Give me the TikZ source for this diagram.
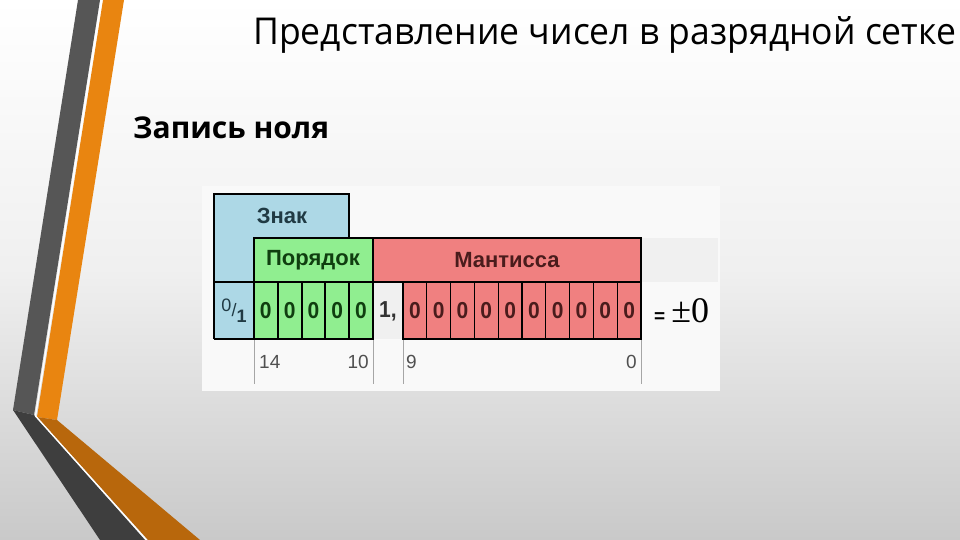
\documentclass[tikz,border=0pt]{standalone}
\usepackage{fontspec}
\setmainfont{Liberation Sans}
\newfontfamily\titlefont{Open Sans}
\newfontfamily\numserif{Liberation Serif}
\definecolor{bgtop}{HTML}{FFFFFF}
\definecolor{bgbottom}{HTML}{C9C9C9}
\definecolor{bandgray}{HTML}{565656}
\definecolor{bandgraylow}{HTML}{3E3E3E}
\definecolor{bandorange}{HTML}{E98510}
\definecolor{bandorangelow}{HTML}{B8670C}
\definecolor{tablebg}{HTML}{F9F9F9}
\definecolor{znakblue}{HTML}{ADD8E6}
\definecolor{porgreen}{HTML}{90EE90}
\definecolor{mantred}{HTML}{F08080}
\definecolor{pointgray}{HTML}{F0F0F0}
\definecolor{znaktext}{HTML}{203A44}
\definecolor{portext}{HTML}{103E10}
\definecolor{manttext}{HTML}{4A1C1C}
\definecolor{labgray}{HTML}{505050}
\tikzset{
  grid/.style={draw=black, line width=1.6pt},
  thin grid/.style={draw=black, line width=1.1pt},
  labline/.style={draw=gray!70, line width=0.9pt},
  head/.style={font=\bfseries\fontsize{22}{22}\selectfont, inner sep=0pt},
  digit/.style={font=\bfseries\fontsize{21}{21}\selectfont, inner sep=0pt, yscale=1.1},
  lab/.style={font=\fontsize{19}{19}\selectfont, text=labgray, inner sep=0pt}
}
\begin{document}
\begin{tikzpicture}[x=1pt, y=-1pt]
\useasboundingbox (0,0) rectangle (960,540);
% Background
\shade[top color=bgtop, bottom color=bgbottom, middle color=gray!12] (0,0) rectangle (960,540);
% Left bands
\fill[bandgray] (78,0) -- (100,0) -- (34,415) -- (13,410) -- cycle;
\fill[bandgraylow] (13,410) -- (34,415) -- (145,540) -- (100,540) -- cycle;
\fill[bandorange] (103,0) -- (124,0) -- (57,420) -- (37,417) -- cycle;
\fill[bandorangelow] (37,417) -- (57,420) -- (200,540) -- (148,540) -- cycle;
\draw[white, line width=1.4pt] (101.5,0) -- (35.5,416) -- (146.5,540);
% Titles
\node[anchor=base west, inner sep=0pt, xscale=0.96, font=\titlefont\fontsize{37}{37}\selectfont] (title) at (253,45) {Представление чисел в разрядной сетке};
\node[anchor=base west, inner sep=0pt, font=\titlefont\bfseries\fontsize{30}{30}\selectfont] (subtitle) at (133,139) {Запись ноля};
% Table
\fill[tablebg] (202,186) rectangle (720,391);
\fill[pointgray] (641,238) rectangle (718,282);
\fill[znakblue] (214,194) -- (349,194) -- (349,238) -- (254,238) -- (254,339) -- (214,339) -- cycle;
\fill[porgreen] (254,238) rectangle (373,339);
\fill[mantred] (373,238) rectangle (641,282);
\fill[mantred] (403,282) rectangle (641,339);
\fill[pointgray] (373,282) rectangle (403,339);
% Cell dividers
\foreach \x in {278,302,325,349} \draw[thin grid] (\x,282) -- (\x,339);
\foreach \i in {1,...,9} \draw[thin grid] (403+23.8*\i,282) -- (403+23.8*\i,339);
% Borders
\draw[grid] (214,339) -- (214,194) -- (349,194) -- (349,238);
\draw[grid] (254,339) -- (254,238) -- (641,238) -- (641,339) -- (403,339) -- (403,282);
\draw[grid] (214,282) -- (641,282);
\draw[grid] (214,339) -- (373,339) -- (373,238);
% Bit number lines
\foreach \x in {254,373,403,641} \draw[labline] (\x,340) -- (\x,384);
% Header texts
\node[head, text=znaktext] (znak) at (282,216) {Знак};
\node[head, text=portext] (poryadok) at (313,260) {Порядок};
\node[head, text=manttext] (mantissa) at (507,260) {Мантисса};
% Sign
\node[inner sep=0pt, text=znaktext, font=\fontsize{18}{18}\selectfont] (sign) at (234,311) {\raisebox{5pt}{0}/\raisebox{-6pt}{\bfseries 1}};
% Exponent digits
\foreach \i in {1,...,5}
  \node[digit, text=portext] (p\i) at (242+23.8*\i,311) {0};
\node[digit, text=black!80] (point) at (388,311) {1,};
% Mantissa digits
\foreach \i in {1,...,10}
  \node[digit, text=manttext] (m\i) at (391.1+23.8*\i,311) {0};
% Result
\node[anchor=west, inner sep=0pt] (result) at (654,311) {{\bfseries\fontsize{19}{19}\selectfont =\hspace{6pt}}{\numserif\fontsize{36}{36}\selectfont ±0}};
% Bit numbers
\node[lab, anchor=west] (lab14) at (259,362) {14};
\node[lab, anchor=east] (lab10) at (369,362) {10};
\node[lab, anchor=west] (lab9) at (406,362) {9};
\node[lab, anchor=east] (lab0) at (637,362) {0};
\end{tikzpicture}
\end{document}
